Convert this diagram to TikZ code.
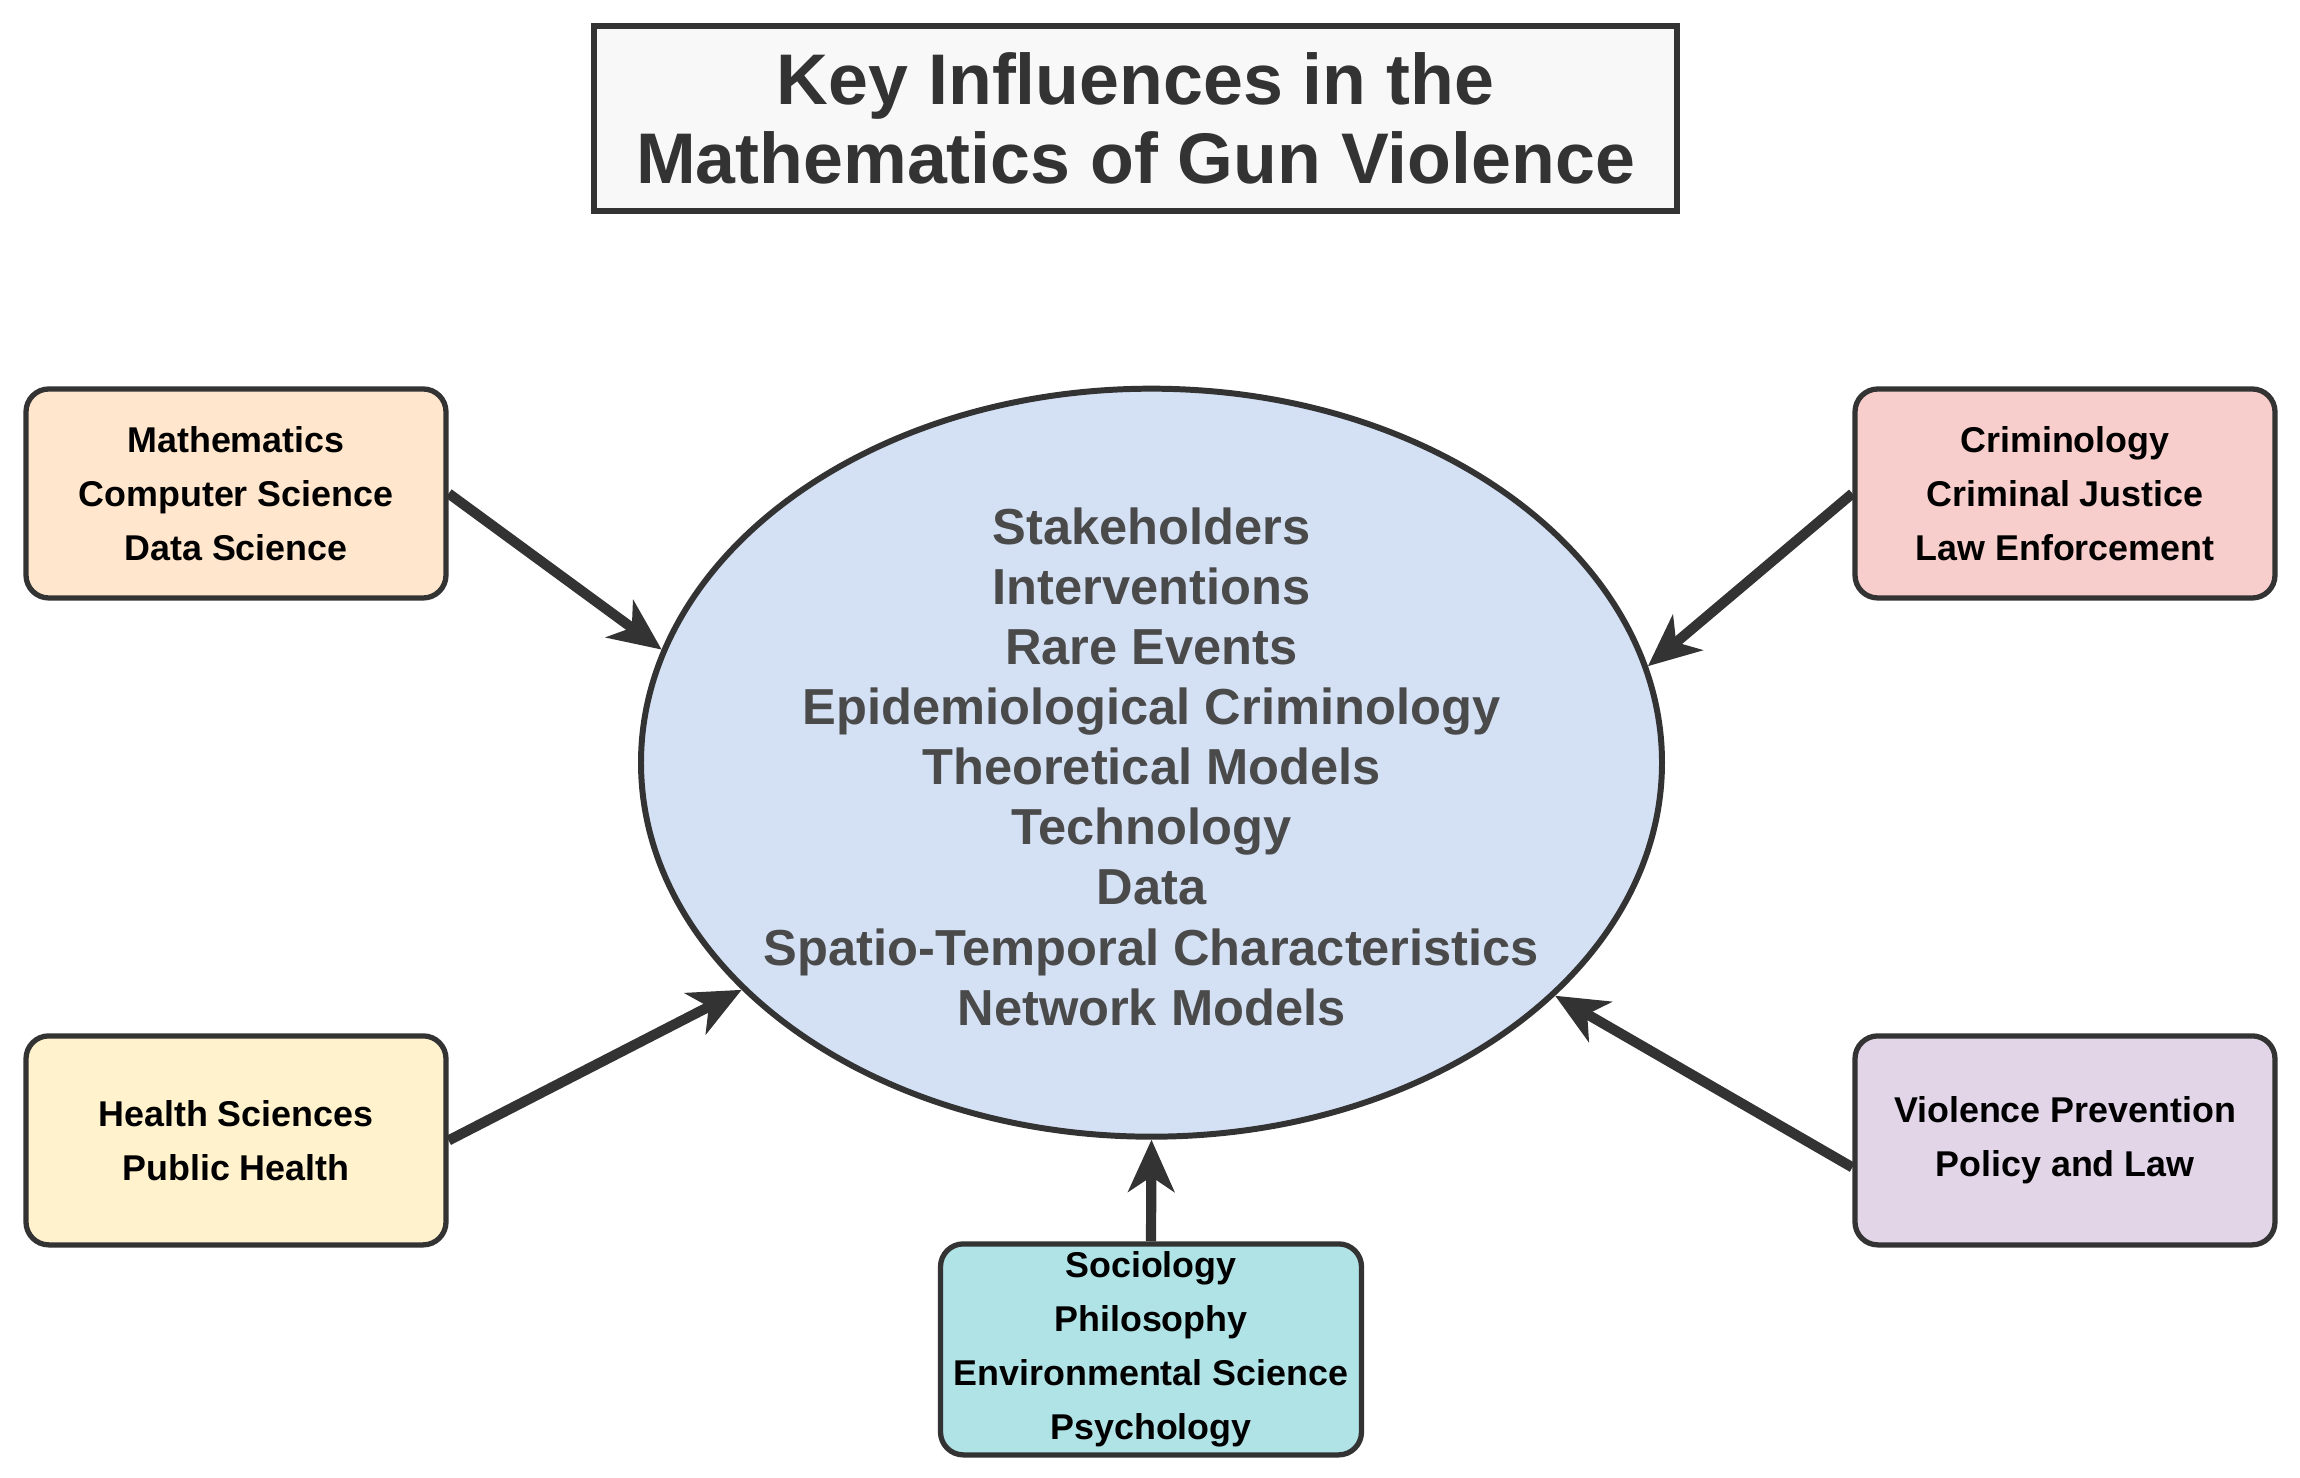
\documentclass[tikz,border=0pt]{standalone}
\usepackage{fontspec}
\setmainfont{Liberation Sans}
\usepackage{xcolor}
\usepackage{tikz}
\usetikzlibrary{positioning,arrows.meta,calc,shapes.geometric}
\definecolor{ink}{HTML}{333333}
\definecolor{coretext}{HTML}{4A4A4A}
\definecolor{cTitle}{HTML}{F8F8F8}
\definecolor{cCore}{HTML}{D4E1F5}
\definecolor{cMath}{HTML}{FFE6CC}
\definecolor{cCrim}{HTML}{F8CECC}
\definecolor{cHealth}{HTML}{FFF2CC}
\definecolor{cPolicy}{HTML}{E1D5E7}
\definecolor{cSocial}{HTML}{B0E3E6}
\tikzset{
  ttl/.style   = {draw=ink, fill=cTitle, line width=1.9pt, minimum width=10.83cm, minimum height=1.85cm,
                  align=center, text=ink, font=\bfseries\fontsize{20.4}{22.5}\selectfont},
  core/.style  = {ellipse, draw=ink, fill=cCore, line width=1.7pt, minimum width=10.21cm,
                  minimum height=7.48cm, inner sep=0pt},
  coretxt/.style = {align=center, text=coretext, inner sep=0pt, font=\bfseries\fontsize{14.4}{17.1}\selectfont},
  fld/.style   = {rounded corners=6.5pt, draw=ink, line width=1.5pt, minimum width=4.2cm,
                  minimum height=2.09cm, inner sep=0pt, align=center, text=black,
                  font=\bfseries\fontsize{10.2}{15.4}\selectfont},
  ar/.style    = {-{Stealth[length=5.2mm,width=4.6mm,inset=1.5mm]}, line width=2.9pt, draw=ink},
}
\begin{document}
\begin{tikzpicture}
  \useasboundingbox (0,0) rectangle (23,14.78);
  \node[ttl] (title) at (11.355,13.595) {Key Influences in the\\ Mathematics of Gun Violence};

  \node[core] (ell) at (11.515,7.153) {};
  \node[coretxt] (elltxt) at ([yshift=-0.4mm]ell.center) {Stakeholders\\ Interventions\\ Rare Events\\ Epidemiological Criminology\\
    Theoretical Models\\ Technology\\ Data\\ Spatio-Temporal Characteristics\\ Network Models};

  \node[fld, fill=cMath] (math) at (2.36,9.845) {Mathematics\\ Computer Science\\ Data Science};
  \node[fld, fill=cCrim] (crim) at (20.65,9.845) {Criminology\\ Criminal Justice\\ Law Enforcement};
  \node[fld, fill=cHealth] (health) at (2.36,3.376) {Health Sciences\\ Public Health};
  \node[fld, fill=cPolicy] (policy) at (20.65,3.376) {Violence Prevention\\ Policy and Law};
  \node[fld, fill=cSocial, minimum width=4.21cm, minimum height=2.11cm] (social) at (11.51,1.286)
       {Sociology\\ Philosophy\\ Environmental Science\\ Psychology};

  \draw[ar] (math.east) -- (ell.167);
  \draw[ar] (crim.west) -- (ell.11.6);
  \draw[ar] (health.east) -- (ell.209.4);
  \draw[ar] ([yshift=-2.7mm]policy.west) -- (ell.330.7);
  \draw[ar] (social.north) -- (ell.south);
\end{tikzpicture}
\end{document}
